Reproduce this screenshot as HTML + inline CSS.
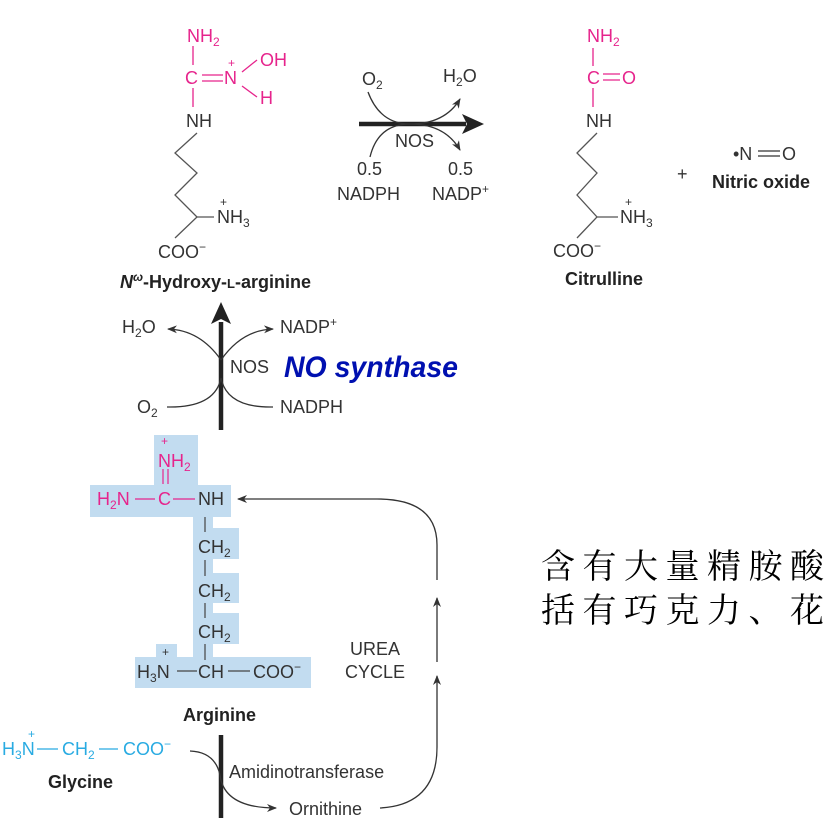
<!DOCTYPE html>
<html><head><meta charset="utf-8"><style>
html,body{margin:0;padding:0;background:#fff;}
svg{display:block;}
text{font-family:"Liberation Sans",sans-serif;font-size:18px;fill:#333;}
.p{fill:#e6248c;}
.c{fill:#29abe2;}
.b{font-weight:bold;fill:#222;}
.s{font-size:12px;}
.cn{font-family:"Liberation Serif","Noto Serif CJK SC",serif;font-size:34px;fill:#000;}
</style></head><body>
<svg width="832" height="836" viewBox="0 0 832 836" xmlns="http://www.w3.org/2000/svg">
<defs>
<marker id="ah" markerWidth="10" markerHeight="8" refX="9" refY="4" orient="auto" markerUnits="userSpaceOnUse"><path d="M0,0 L10,4 L0,8 L3,4Z" fill="#333"/></marker>
</defs>
<!-- N-hydroxy-arginine -->
<g stroke="#e6248c" stroke-width="1.3" fill="none">
<line x1="193" y1="46" x2="193" y2="65"/><line x1="193" y1="88" x2="193" y2="107"/>
<line x1="202" y1="75" x2="223" y2="75"/><line x1="202" y1="81" x2="223" y2="81"/>
<line x1="242" y1="72" x2="257" y2="60"/><line x1="242" y1="86" x2="257" y2="97"/>
</g>
<text class="p" x="187" y="42">NH<tspan class="s" dy="4">2</tspan></text>
<text class="p" x="185" y="84">C</text>
<text class="p" x="224" y="84">N</text>
<text class="p s" x="228" y="67">+</text>
<text class="p" x="260" y="66">OH</text>
<text class="p" x="260" y="104">H</text>
<text x="186" y="127">NH</text>
<polyline points="197,133 175,153 197,173 175,195 197,217 175,238" stroke="#555" stroke-width="1.3" fill="none"/>
<line x1="197" y1="217" x2="214" y2="217" stroke="#555" stroke-width="1.3"/>
<text class="s" x="220" y="206">+</text>
<text x="217" y="223">NH<tspan class="s" dy="4">3</tspan></text>
<text x="158" y="258">COO<tspan class="s" dy="-7">−</tspan></text>
<text class="b" x="120" y="288"><tspan font-style="italic">N</tspan><tspan class="s" dy="-7" font-style="italic">ω</tspan><tspan dy="7">-Hydroxy-</tspan><tspan font-size="13">L</tspan>-arginine</text>

<!-- top reaction -->
<line x1="359" y1="124" x2="466" y2="124" stroke="#222" stroke-width="4.5"/>
<path d="M462,114 L484,124 L462,134 L467,124Z" fill="#222"/>
<path d="M368,92 Q380,124 410,124 Q445,124 460,99" stroke="#333" stroke-width="1.3" fill="none" marker-end="url(#ah)"/>
<path d="M370,157 Q378,124 410,124 Q445,124 460,150" stroke="#333" stroke-width="1.3" fill="none" marker-end="url(#ah)"/>
<text x="362" y="85">O<tspan class="s" dy="4">2</tspan></text>
<text x="443" y="82">H<tspan class="s" dy="4">2</tspan><tspan dy="-4">O</tspan></text>
<text x="395" y="147">NOS</text>
<text x="357" y="175">0.5</text>
<text x="337" y="200">NADPH</text>
<text x="448" y="175">0.5</text>
<text x="432" y="200">NADP<tspan class="s" dy="-7">+</tspan></text>

<!-- citrulline -->
<g stroke="#e6248c" stroke-width="1.3">
<line x1="593" y1="48" x2="593" y2="66"/><line x1="593" y1="88" x2="593" y2="107"/>
<line x1="603" y1="74" x2="620" y2="74"/><line x1="603" y1="80" x2="620" y2="80"/>
</g>
<text class="p" x="587" y="42">NH<tspan class="s" dy="4">2</tspan></text>
<text class="p" x="587" y="84">C</text>
<text class="p" x="622" y="84">O</text>
<text x="586" y="127">NH</text>
<polyline points="597,133 577,153 597,173 577,195 597,217 577,238" stroke="#555" stroke-width="1.3" fill="none"/>
<line x1="597" y1="217" x2="618" y2="217" stroke="#555" stroke-width="1.3"/>
<text class="s" x="625" y="206">+</text>
<text x="620" y="223">NH<tspan class="s" dy="4">3</tspan></text>
<text x="553" y="257">COO<tspan class="s" dy="-7">−</tspan></text>
<text class="b" x="565" y="285">Citrulline</text>
<text x="677" y="180">+</text>
<text x="733" y="160">•N</text>
<line x1="758" y1="151" x2="780" y2="151" stroke="#333" stroke-width="1.2"/><line x1="758" y1="156" x2="780" y2="156" stroke="#333" stroke-width="1.2"/>
<text x="782" y="160">O</text>
<text class="b" x="712" y="188">Nitric oxide</text>

<!-- middle arrow -->
<line x1="221" y1="322" x2="221" y2="430" stroke="#222" stroke-width="4.5"/>
<path d="M211,324 L221,302 L231,324 L221,319Z" fill="#222"/>
<path d="M221,360 Q200,330 168,329" stroke="#333" stroke-width="1.3" fill="none" marker-end="url(#ah)"/>
<path d="M221,360 Q242,330 273,329" stroke="#333" stroke-width="1.3" fill="none" marker-end="url(#ah)"/>
<path d="M167,407 Q215,408 221,378 Q227,408 273,407" stroke="#333" stroke-width="1.3" fill="none"/>
<text x="122" y="333">H<tspan class="s" dy="4">2</tspan><tspan dy="-4">O</tspan></text>
<text x="280" y="333">NADP<tspan class="s" dy="-7">+</tspan></text>
<text x="230" y="373">NOS</text>
<text x="137" y="413">O<tspan class="s" dy="4">2</tspan></text>
<text x="280" y="413">NADPH</text>
<text x="284" y="377" textLength="174" lengthAdjust="spacingAndGlyphs" style="font-size:30px;font-weight:bold;font-style:italic;fill:#0010b0;">NO synthase</text>

<!-- arginine highlight -->
<g fill="#c2dcf0">
<rect x="154" y="435" width="44" height="52"/>
<rect x="90" y="485" width="141" height="32"/>
<rect x="193" y="515" width="20" height="144"/>
<rect x="193" y="528" width="46" height="31"/>
<rect x="193" y="573" width="46" height="30"/>
<rect x="193" y="613" width="46" height="31"/>
<rect x="156" y="644" width="21" height="15"/>
<rect x="135" y="657" width="176" height="31"/>
</g>
<text class="p s" x="161" y="445">+</text>
<text class="p" x="158" y="467">NH<tspan class="s" dy="4">2</tspan></text>
<line x1="163" y1="469" x2="163" y2="484" stroke="#e6248c" stroke-width="1.2"/><line x1="168" y1="469" x2="168" y2="484" stroke="#e6248c" stroke-width="1.2"/>
<text class="p" x="97" y="505">H<tspan class="s" dy="4">2</tspan><tspan dy="-4">N</tspan></text>
<line x1="135" y1="499" x2="155" y2="499" stroke="#e6248c" stroke-width="1.2"/>
<text class="p" x="158" y="505">C</text>
<line x1="173" y1="499" x2="195" y2="499" stroke="#e6248c" stroke-width="1.2"/>
<text x="198" y="505">NH</text>
<g stroke="#444" stroke-width="1.2">
<line x1="205" y1="517" x2="205" y2="532"/><line x1="205" y1="560" x2="205" y2="576"/><line x1="205" y1="603" x2="205" y2="618"/><line x1="205" y1="644" x2="205" y2="660"/>
<line x1="177" y1="671" x2="197" y2="671"/><line x1="228" y1="671" x2="250" y2="671"/>
</g>
<text x="198" y="553">CH<tspan class="s" dy="4">2</tspan></text>
<text x="198" y="597">CH<tspan class="s" dy="4">2</tspan></text>
<text x="198" y="638">CH<tspan class="s" dy="4">2</tspan></text>
<text class="s" x="162" y="656">+</text>
<text x="137" y="678">H<tspan class="s" dy="4">3</tspan><tspan dy="-4">N</tspan></text>
<text x="198" y="678">CH</text>
<text x="253" y="678">COO<tspan class="s" dy="-7">−</tspan></text>
<text class="b" x="183" y="721">Arginine</text>
<text x="350" y="655">UREA</text>
<text x="345" y="678">CYCLE</text>

<!-- urea cycle arrows -->
<path d="M437,580 L437,545 Q437,499 377,499 L238,499" stroke="#333" stroke-width="1.3" fill="none" marker-end="url(#ah)"/>
<line x1="437" y1="662" x2="437" y2="598" stroke="#333" stroke-width="1.3" marker-end="url(#ah)"/>
<path d="M380,808 Q437,805 437,747 L437,676" stroke="#333" stroke-width="1.3" fill="none" marker-end="url(#ah)"/>

<!-- glycine -->
<text class="c s" x="28" y="738">+</text>
<text class="c" x="2" y="755">H<tspan class="s" dy="4">3</tspan><tspan dy="-4">N</tspan></text>
<line x1="37" y1="749" x2="58" y2="749" stroke="#29abe2" stroke-width="1.2"/>
<text class="c" x="62" y="755">CH<tspan class="s" dy="4">2</tspan></text>
<line x1="99" y1="749" x2="118" y2="749" stroke="#29abe2" stroke-width="1.2"/>
<text class="c" x="123" y="755">COO<tspan class="s" dy="-7">−</tspan></text>
<text class="b" x="48" y="788">Glycine</text>
<line x1="221" y1="735" x2="221" y2="818" stroke="#222" stroke-width="4.5"/>
<path d="M190,751 Q215,752 220,775 Q224,808 276,808" stroke="#333" stroke-width="1.3" fill="none" marker-end="url(#ah)"/>
<text x="229" y="778">Amidinotransferase</text>
<text x="289" y="815">Ornithine</text>

<!-- Chinese -->
<text class="cn" x="541" y="578" letter-spacing="7.5">含有大量精胺酸</text>
<text class="cn" x="541" y="622" letter-spacing="7.5">括有巧克力、花生</text>
</svg>
</body></html>
